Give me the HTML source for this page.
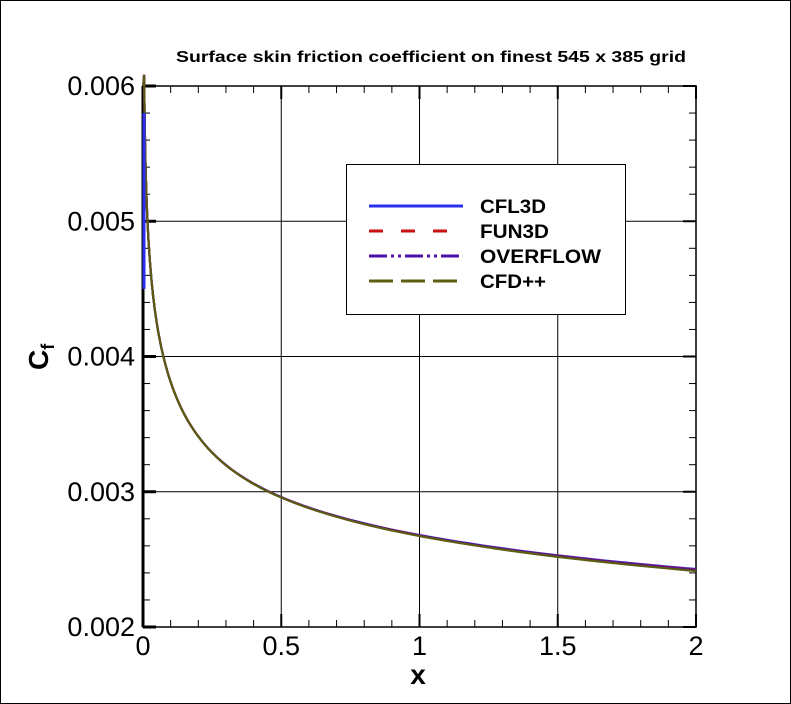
<!DOCTYPE html>
<html><head><meta charset="utf-8"><style>
html,body{margin:0;padding:0;background:#fff}
svg{display:block;font-family:"Liberation Sans",sans-serif}
</style></head><body>
<svg id="s" width="791" height="704" viewBox="0 0 791 704">
<rect x="0.5" y="0.5" width="790" height="703" fill="#fff" stroke="#000"/>
<text x="176" y="62" font-size="16" font-weight="bold" textLength="510" lengthAdjust="spacingAndGlyphs">Surface skin friction coefficient on finest 545 x 385 grid</text>
<g id="grid" stroke="#000" stroke-width="1"></g>
<g font-size="27" text-anchor="end" id="yl"></g>
<g font-size="27" text-anchor="middle" id="xl"></g>
<text x="418" y="684" font-size="28" font-weight="bold" text-anchor="middle">x</text>
<text transform="translate(48,370) rotate(-90)" font-size="28" font-weight="bold">C<tspan font-size="18" dy="6">f</tspan></text>
<g id="curves" fill="none" stroke-width="2.2"></g>
<rect x="346.5" y="164.5" width="279" height="150" fill="#fff" stroke="#000"/>
<g stroke-width="3">
<line x1="369" y1="206" x2="463" y2="206" stroke="#2a2ff0"/>
<line x1="369" y1="231" x2="463" y2="231" stroke="#cc1010" stroke-dasharray="14,18"/>
<line x1="369" y1="256" x2="463" y2="256" stroke="#4a10a8" stroke-dasharray="18,4,3,4,3,4"/>
<line x1="369" y1="281" x2="463" y2="281" stroke="#5c5c10" stroke-dasharray="24,8"/>
</g>
<g font-size="19" font-weight="bold">
<text x="480" y="213" textLength="66" lengthAdjust="spacingAndGlyphs">CFL3D</text>
<text x="480" y="238" textLength="69" lengthAdjust="spacingAndGlyphs">FUN3D</text>
<text x="480" y="263" textLength="121" lengthAdjust="spacingAndGlyphs">OVERFLOW</text>
<text x="480" y="288" textLength="66" lengthAdjust="spacingAndGlyphs">CFD++</text>
</g>
</svg>
<script>
var X0=143,X1=696,Y0=627,Y1=86;
function px(x){return X0+(X1-X0)*x/2}
function py(c){return Y0-(Y0-Y1)*(c-0.002)/0.004}
var ns="http://www.w3.org/2000/svg",g=document.getElementById('grid');
function ln(a,b,c,d,w){var l=document.createElementNS(ns,'line');l.setAttribute('x1',a);l.setAttribute('y1',b);l.setAttribute('x2',c);l.setAttribute('y2',d);if(w)l.setAttribute('stroke-width',w);g.appendChild(l);}
for(var i=1;i<4;i++){ln(X0,py(0.002+i*0.001),X1,py(0.002+i*0.001));}
for(var i=1;i<4;i++){ln(px(i*0.5),Y1,px(i*0.5),Y0);}
for(var i=1;i<20;i++){if(i%5){var y=py(0.002+i*0.0002);ln(X0,y,X0+7,y);ln(X1,y,X1-7,y);}}
for(var i=1;i<20;i++){if(i%5){var x=px(i*0.1);ln(x,Y0,x,Y0-7);ln(x,Y1,x,Y1+7);}}
for(var i=0;i<=4;i++){var y=py(0.002+i*0.001);ln(X0,y,X0+13,y,3);ln(X1,y,X1-13,y,2);}
for(var i=0;i<=4;i++){var x=px(i*0.5);ln(x,Y0,x,Y0-13,2);ln(x,Y1,x,Y1+13,2);}
var r=document.createElementNS(ns,'rect');r.setAttribute('x',X0);r.setAttribute('y',Y1);r.setAttribute('width',X1-X0);r.setAttribute('height',Y0-Y1);r.setAttribute('fill','none');r.setAttribute('stroke','#000');r.setAttribute('stroke-width','1.5');g.appendChild(r);
ln(X0,Y1,X0,Y0,3);
var yl=document.getElementById('yl');
['0.002','0.003','0.004','0.005','0.006'].forEach(function(t,i){var e=document.createElementNS(ns,'text');e.setAttribute('x',135);e.setAttribute('y',py(0.002+i*0.001)+9);e.textContent=t;yl.appendChild(e);});
var xl=document.getElementById('xl');
['0','0.5','1','1.5','2'].forEach(function(t,i){var e=document.createElementNS(ns,'text');e.setAttribute('x',px(i*0.5));e.setAttribute('y',655);e.textContent=t;xl.appendChild(e);});
function cf(x){return 0.00268*Math.pow(x,-0.142)+0.00022*Math.exp(-x/0.12);}
function path(off){var d='M'+px(0.001)+','+py(0.006);var xs=[];for(var x=0.004;x<=2.0001;x*=1.04)xs.push(x);xs.push(2);xs.forEach(function(x){d+=' L'+px(x).toFixed(1)+','+(py(cf(x))+off*x).toFixed(1)});return d;}
var cv=document.getElementById('curves');
[['#2a2ff0',0],['#cc1010',0.3],['#4a10a8',0.5],['#5c5c10',1]].forEach(function(s){var p=document.createElementNS(ns,'path');p.setAttribute('d',path(s[1]));p.setAttribute('stroke',s[0]);cv.appendChild(p);});
var b=document.createElementNS(ns,'line');b.setAttribute('x1',144);b.setAttribute('x2',144);b.setAttribute('y1',py(0.0058));b.setAttribute('y2',py(0.0045));b.setAttribute('stroke','#2a2ff0');b.setAttribute('stroke-width',3);cv.appendChild(b);
</script>
</body></html>
